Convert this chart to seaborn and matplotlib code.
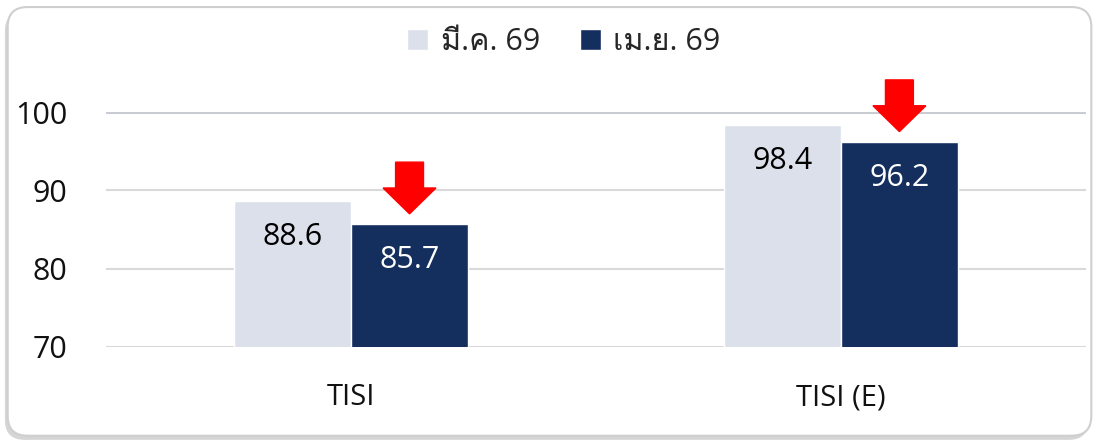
import pandas as pd
import matplotlib.pyplot as plt
import matplotlib.patheffects as pe
from matplotlib import font_manager as fm
from matplotlib.ft2font import FT2Font
from matplotlib.patches import FancyBboxPatch
import seaborn as sns

# ข้อมูลดัชนี
categories = ['TISI', 'TISI (E)']
periods = ['มี.ค. 69', 'เม.ย. 69']
mar_values = [88.6, 98.4]
apr_values = [85.7, 96.2]
bar_colors = ['#DCE0EB', '#142F5E']
label_colors = ['black', 'white']
y_ticks = [70, 80, 90, 100]

df = pd.DataFrame({
    'index': categories * 2,
    'period': [periods[0]] * len(categories) + [periods[1]] * len(categories),
    'value': mar_values + apr_values,
})


# หาฟอนต์ที่มีอักษรไทย
def find_thai_fonts():
    found = []
    for f in fm.fontManager.ttflist:
        try:
            cmap = FT2Font(f.fname).get_charmap()
        except Exception:
            continue
        if 0x0E21 in cmap and 0x0E22 in cmap and f.name not in found:
            found.append(f.name)
    return found


thai_fonts = find_thai_fonts()

sns.set_style('white')
plt.rcParams['font.family'] = ['Open Sans'] + thai_fonts + ['Noto Sans', 'DejaVu Sans']

fig = plt.figure(figsize=(10.99, 4.41), dpi=100)

# กรอบมุมมน + เงา
frame = FancyBboxPatch((0.007, 0.012), 0.986, 0.972, boxstyle='round,pad=0,rounding_size=0.018',
                       mutation_aspect=1099 / 441, transform=fig.transFigure, fc='white', ec='#cfcfcf',
                       lw=1.5, zorder=-1,
                       path_effects=[pe.SimplePatchShadow(offset=(-2, -3), shadow_rgbFace='#888888', alpha=0.35),
                                     pe.Normal()])
fig.add_artist(frame)

ax = fig.add_axes([0.0965, 0.2132, 0.8915, 0.5328])
ax.set_facecolor('none')
sns.barplot(data=df, x='index', y='value', hue='period', palette=bar_colors, width=0.478, gap=0,
            saturation=1, ax=ax)

ax.set_ylim(70, 100)
ax.set_xlim(-0.5, 1.5)
ax.set_yticks(y_ticks)
ax.set_xlabel('')
ax.set_ylabel('')
sns.despine(ax=ax, left=True, bottom=True)
ax.yaxis.grid(True, color='#d9d9d9', linewidth=1.5)
ax.set_axisbelow(True)
ax.yaxis.get_gridlines()[-1].set_color('#c9ccd3')
ax.yaxis.get_gridlines()[-1].set_linewidth(2.2)
ax.tick_params(axis='y', length=0, pad=28, labelsize=22, labelcolor='#111111')
ax.tick_params(axis='x', length=0, pad=26, labelsize=21, labelcolor='#111111')

# ค่าบนแท่ง
for container, col in zip(ax.containers, label_colors):
    for patch in container:
        h = patch.get_height()
        ax.annotate(f'{h:.1f}', (patch.get_x() + patch.get_width() / 2, h), xytext=(0, -26),
                    textcoords='offset points', ha='center', va='center', fontsize=22, color=col)

# ลูกศรสีแดงบนแท่ง เม.ย.
for patch in ax.containers[1]:
    xc = patch.get_x() + patch.get_width() / 2
    top = patch.get_height()
    ax.arrow(xc, top + 7.9, 0, -6.6, width=0.057, head_width=0.108, head_length=3.3,
             length_includes_head=True, color='#FF0000', clip_on=False, zorder=5)

handles, labels = ax.get_legend_handles_labels()
ax.get_legend().remove()
fig.legend(handles, labels, loc='center', bbox_to_anchor=(0.513, 1 - 42 / 441), ncol=2, frameon=False,
           fontsize=22, handlelength=0.7, handleheight=0.7, handletextpad=0.4, columnspacing=1.3)

fig.savefig('out.png', dpi=100)
